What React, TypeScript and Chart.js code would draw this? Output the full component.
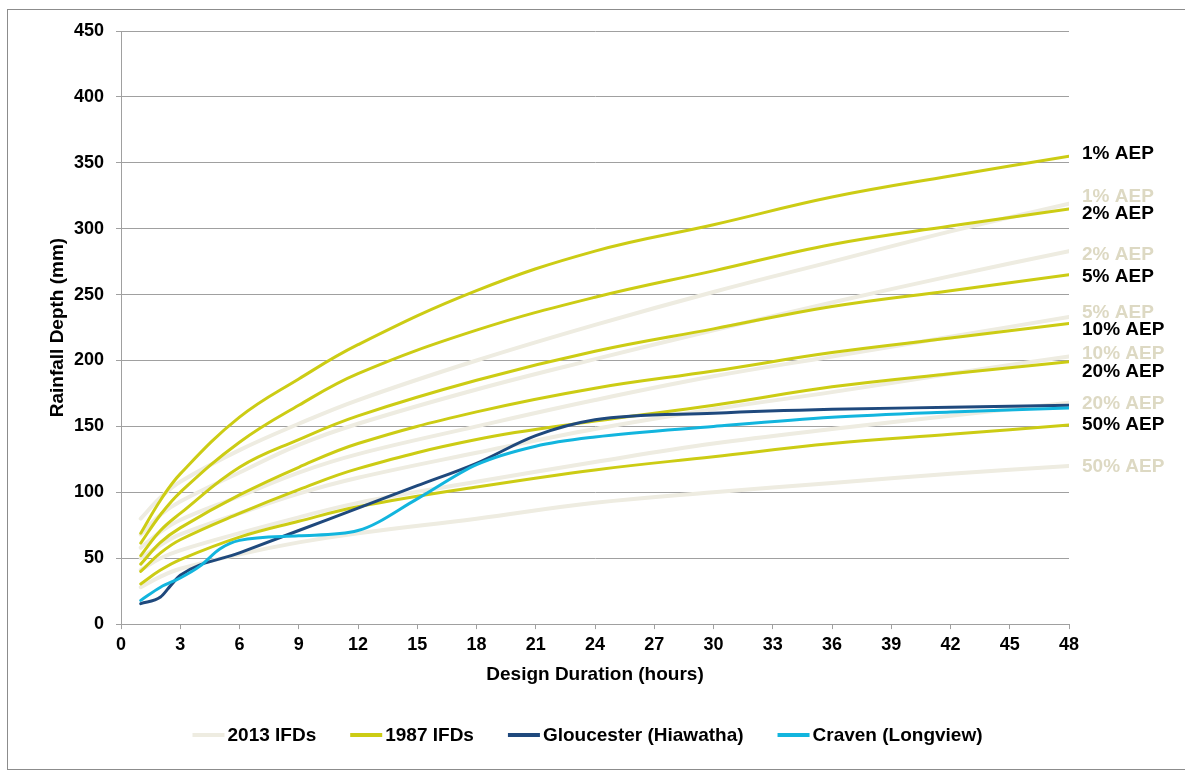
import React, { useEffect, useRef } from 'react';
import { Chart, registerables } from 'chart.js';

Chart.register(...registerables);

// ---------- data ----------
const ifdDurations = [1, 2, 3, 6, 9, 12, 18, 24, 30, 36, 42, 48];
const aepNames = ['1% AEP', '2% AEP', '5% AEP', '10% AEP', '20% AEP', '50% AEP'];

// 1987 IFDs (mm)
const ifd1987_1 = [69, 94, 114, 157, 186, 212, 253, 283, 303, 324, 340, 355];
const ifd1987_2 = [61.5, 83, 100, 138, 166, 190, 223, 248, 268, 288, 302, 315];
const ifd1987_5 = [52, 71, 84, 119, 140, 158, 185, 207, 224, 241, 253, 265];
const ifd1987_10 = [45.5, 62, 73, 98, 119, 137, 161, 179, 192, 206, 217, 228];
const ifd1987_20 = [40, 54, 64, 84, 102, 118, 140, 154, 166, 180, 190, 199];
const ifd1987_50 = [30.5, 41, 49, 66, 78, 89, 104, 117, 127, 137, 144, 151];

// 2013 IFDs (mm)
const ifd2013_1 = [80, 96, 108, 132, 152, 170, 200, 227, 252, 275, 298, 319];
const ifd2013_2 = [68, 83, 93, 115, 136, 152, 178, 201, 223, 244, 264, 283];
const ifd2013_5 = [58, 70, 79, 97, 115, 129, 150, 170, 188, 203, 218, 233];
const ifd2013_10 = [50, 60, 68, 84, 99, 111, 130, 148, 163, 176, 190, 203];
const ifd2013_20 = [41, 50, 56, 69, 81, 92, 108, 123, 137, 148, 158, 168];
const ifd2013_50 = [28, 36, 42, 53, 62, 69, 80, 92, 100, 107, 114, 120];

// Gloucester (Hiawatha)
const gloucesterDurations = [1, 2, 2.5, 3, 6, 9, 12, 15, 18, 21, 24, 30, 36, 42, 48];
const gloucesterDepths = [15.5, 20.5, 29, 37, 54, 71, 88, 105, 122, 143, 155, 160, 163, 164.5, 166];

// Craven (Longview)
const cravenDurations = [1, 2, 3, 4, 5, 6, 9, 12, 15, 18, 21, 24, 30, 36, 42, 48];
const cravenDepths = [18, 28, 35, 44, 57, 63.5, 67, 71, 95, 121, 135, 142, 150, 157, 161, 164];

const ifd1987 = [ifd1987_1, ifd1987_2, ifd1987_5, ifd1987_10, ifd1987_20, ifd1987_50];
const ifd2013 = [ifd2013_1, ifd2013_2, ifd2013_5, ifd2013_10, ifd2013_20, ifd2013_50];

// ---------- styles ----------
const COLOR_2013 = '#EEECE1';
const COLOR_2013_LABEL = '#DDD9C3';
const COLOR_1987 = '#CCCC14';
const COLOR_GLOUCESTER = '#1F497D';
const COLOR_CRAVEN = '#12B5DE';
const GRID = '#A0A0A0';
const FONT_FAMILY = '"Liberation Sans", Arial, Helvetica, sans-serif';

// label nudges in px (layout only)
const labelDy1987 = [-2, 5, 1.5, 6, 9.5, 0];
const labelDy2013 = [-7, 4, -4, -3, 1, 1];

const legendItems = [
  { text: '2013 IFDs', color: COLOR_2013 },
  { text: '1987 IFDs', color: COLOR_1987 },
  { text: 'Gloucester (Hiawatha)', color: COLOR_GLOUCESTER },
  { text: 'Craven (Longview)', color: COLOR_CRAVEN },
];

const toPoints = (xs: number[], ys: number[]) => xs.map((x, i) => ({ x, y: ys[i] }));

const backgroundPlugin = {
  id: 'bgBorder',
  beforeDraw(chart: any) {
    const ctx = chart.ctx;
    ctx.save();
    ctx.fillStyle = '#FFFFFF';
    ctx.fillRect(0, 0, chart.width, chart.height);
    ctx.strokeStyle = '#8C8C8C';
    ctx.lineWidth = 1;
    ctx.strokeRect(7.5, 9.5, 1200, 760);
    ctx.restore();
  },
};

const endLabelPlugin = {
  id: 'endLabels',
  afterDatasetsDraw(chart: any) {
    const ctx = chart.ctx;
    ctx.save();
    ctx.font = `bold 19px ${FONT_FAMILY}`;
    ctx.textAlign = 'left';
    ctx.textBaseline = 'middle';
    chart.data.datasets.forEach((ds: any, i: number) => {
      if (!ds.endLabel) return;
      const meta = chart.getDatasetMeta(i);
      const el = meta.data[meta.data.length - 1];
      if (!el) return;
      ctx.fillStyle = ds.endLabelColor;
      ctx.fillText(ds.endLabel, el.x + 13, el.y + ds.endLabelDy);
    });
    ctx.restore();
  },
};

const legendPlugin = {
  id: 'customLegend',
  afterDraw(chart: any) {
    const ctx = chart.ctx;
    ctx.save();
    ctx.font = `bold 19px ${FONT_FAMILY}`;
    ctx.textBaseline = 'middle';
    ctx.textAlign = 'left';
    const lineW = 32;
    const gap = 3;
    const spacing = 34;
    const widths = legendItems.map((it) => ctx.measureText(it.text).width);
    const total = widths.reduce((s, w) => s + lineW + gap + w, 0) + spacing * (legendItems.length - 1);
    let x = 587.5 - total / 2;
    const y = 735;
    legendItems.forEach((it, i) => {
      ctx.strokeStyle = it.color;
      ctx.lineWidth = 4;
      ctx.beginPath();
      ctx.moveTo(x, y);
      ctx.lineTo(x + lineW, y);
      ctx.stroke();
      ctx.fillStyle = '#000000';
      ctx.fillText(it.text, x + lineW + gap, y + 1);
      x += lineW + gap + widths[i] + spacing;
    });
    ctx.restore();
  },
};

export default function App() {
  const canvasRef = useRef<HTMLCanvasElement | null>(null);

  useEffect(() => {
    if (!canvasRef.current) return;
    const datasets: any[] = [];
    ifd2013.forEach((vals, i) => {
      datasets.push({
        label: '2013 IFDs ' + aepNames[i],
        data: toPoints(ifdDurations, vals),
        borderColor: COLOR_2013,
        backgroundColor: COLOR_2013,
        borderWidth: 4,
        pointRadius: 0,
        tension: 0.4,
        order: 3,
        endLabel: aepNames[i],
        endLabelColor: COLOR_2013_LABEL,
        endLabelDy: labelDy2013[i],
      });
    });
    ifd1987.forEach((vals, i) => {
      datasets.push({
        label: '1987 IFDs ' + aepNames[i],
        data: toPoints(ifdDurations, vals),
        borderColor: COLOR_1987,
        backgroundColor: COLOR_1987,
        borderWidth: 3,
        pointRadius: 0,
        tension: 0.4,
        order: 2,
        endLabel: aepNames[i],
        endLabelColor: '#000000',
        endLabelDy: labelDy1987[i],
      });
    });
    datasets.push({
      label: 'Gloucester (Hiawatha)',
      data: toPoints(gloucesterDurations, gloucesterDepths),
      borderColor: COLOR_GLOUCESTER,
      backgroundColor: COLOR_GLOUCESTER,
      borderWidth: 3,
      pointRadius: 0,
      cubicInterpolationMode: 'monotone',
      order: 1,
    });
    datasets.push({
      label: 'Craven (Longview)',
      data: toPoints(cravenDurations, cravenDepths),
      borderColor: COLOR_CRAVEN,
      backgroundColor: COLOR_CRAVEN,
      borderWidth: 3,
      pointRadius: 0,
      cubicInterpolationMode: 'monotone',
      order: 0,
    });

    const chart = new Chart(canvasRef.current, {
      type: 'line',
      data: { datasets },
      options: {
        animation: false,
        responsive: false,
        maintainAspectRatio: false,
        devicePixelRatio: 1,
        parsing: false as any,
        normalized: true,
        layout: { padding: { left: 0, top: 31, right: 116, bottom: 87.5 } },
        plugins: {
          legend: { display: false },
          tooltip: { enabled: false },
          title: { display: false },
        },
        elements: { line: { borderCapStyle: 'round', borderJoinStyle: 'round' } },
        scales: {
          x: {
            type: 'linear',
            min: 0,
            max: 48,
            ticks: {
              stepSize: 3,
              color: '#000000',
              padding: 5,
              font: { family: FONT_FAMILY, size: 18, weight: 'bold' },
            },
            grid: { drawOnChartArea: false, drawTicks: true, tickLength: 5, color: GRID },
            border: { display: true, color: GRID, width: 1 },
            title: {
              display: true,
              text: 'Design Duration (hours)',
              color: '#000000',
              padding: { top: 3, bottom: 0 },
              font: { family: FONT_FAMILY, size: 19, weight: 'bold' },
            },
          },
          y: {
            type: 'linear',
            min: 0,
            max: 450,
            ticks: {
              stepSize: 50,
              color: '#000000',
              padding: 12,
              font: { family: FONT_FAMILY, size: 18, weight: 'bold' },
            },
            grid: { drawOnChartArea: true, drawTicks: true, tickLength: 5, color: GRID },
            border: { display: true, color: GRID, width: 1 },
            title: {
              display: true,
              text: 'Rainfall Depth (mm)',
              color: '#000000',
              padding: { top: 46, bottom: 0 },
              font: { family: FONT_FAMILY, size: 19, weight: 'bold' },
            },
            afterFit: (scale: any) => {
              scale.width = 121;
            },
          },
        },
      } as any,
      plugins: [backgroundPlugin, endLabelPlugin, legendPlugin],
    });
    return () => chart.destroy();
  }, []);

  return (
    <div style={{ position: 'absolute', left: 0, top: 0, width: 1185, height: 774, background: '#fff' }}>
      <canvas ref={canvasRef} width={1185} height={774} style={{ display: 'block', width: 1185, height: 774 }} />
    </div>
  );
}
